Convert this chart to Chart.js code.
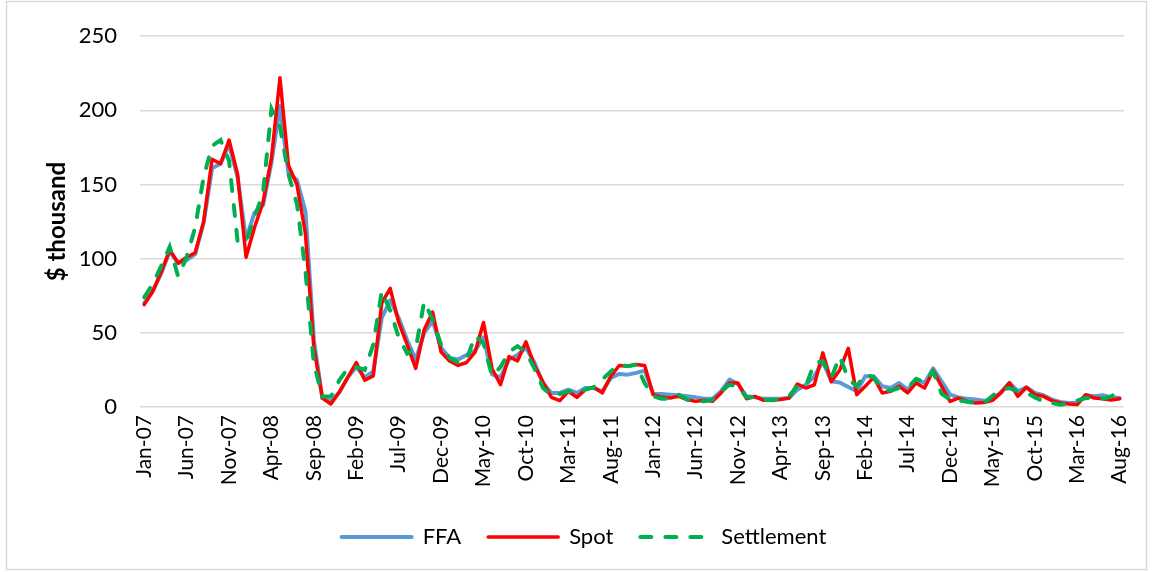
<!DOCTYPE html>
<html>
<head>
<meta charset="utf-8">
<script src="https://cdn.jsdelivr.net/npm/chart.js@4.4.1/dist/chart.umd.min.js"></script>
<style>
  html, body { margin: 0; padding: 0; background: #fff; }
  #wrap { width: 1153px; height: 572px; }
</style>
</head>
<body>
<div id="wrap"><canvas id="freight-chart" width="1153" height="572"></canvas></div>
<script>
// monthly categories Jan-07 .. Aug-16
const monthNames = ['Jan','Feb','Mar','Apr','May','Jun','Jul','Aug','Sep','Oct','Nov','Dec'];
let months = [];
for (let y = 2007; y <= 2016; y++) {
    for (let m = 0; m < 12; m++) {
        if (y === 2016 && m > 7) break;
        months.push(monthNames[m] + '-' + String(y).slice(2));
    }
}

// labels shown on the x axis (every 5th month)
const tickLabels = ['Jan-07','Jun-07','Nov-07','Apr-08','Sep-08','Feb-09','Jul-09','Dec-09','May-10','Oct-10',
    'Mar-11','Aug-11','Jan-12','Jun-12','Nov-12','Apr-13','Sep-13','Feb-14','Jul-14','Dec-14','May-15','Oct-15',
    'Mar-16','Aug-16'];

const yTicks = [0, 50, 100, 150, 200, 250];

// $ thousand
const ffa = [
    70, 78, 90, 105, 97, 99, 103, 124, 161, 164, 177, 155, 113, 131, 136, 165, 203, 158, 153, 132, 45, 6, 4, 10,
    20, 27, 20, 24, 60, 72, 60, 45, 32, 50, 58, 40, 33, 32, 35, 38, 47, 22, 20, 32, 35, 40, 30, 16,
    9.5, 9.5, 11.7, 9.5, 12.8, 12.8, 10.6, 19.6, 22.3, 21.8, 23, 24.5, 8.8, 8.8, 8.3, 7.9, 7.2, 6.5,
    5.6, 5.6, 10.6, 18.5, 15.5, 7.2, 6.5, 5.6, 5.6, 5.6, 6, 11.7, 15, 20.7, 30.8, 17.3, 16.5, 13.5,
    10.6, 20.7, 20.7, 14, 12.8, 16.2, 11.7, 18.5, 16.2, 26, 17.3, 8.3, 6.5, 5.6, 5, 4.3, 5,
    10, 16.2, 10.6, 13.3, 9.5, 7.9, 5, 3.4, 2.7, 2.7, 7.9, 7.2, 7.9, 6.5, 6
];

const spot = [
    69, 78, 91, 106, 97, 101, 104, 125, 167, 164, 180, 157, 101, 121, 138, 168, 222, 163, 150, 117, 40, 6, 2, 10,
    20, 30, 18, 21, 70, 80, 57, 42, 26, 52, 64, 37, 31, 28, 30, 37, 57, 26, 15, 34, 31, 44, 28, 17,
    6.5, 4.3, 10.6, 6.5, 11.7, 13.3, 9.5, 20.7, 28, 27.5, 28.6, 28, 8.3, 6.5, 6, 7.2, 5, 3.8,
    4.5, 3.8, 9.5, 16.2, 16.2, 5.6, 7.2, 4.5, 4.5, 5, 6, 15.5, 12.8, 15, 36.5, 17, 25, 39.5,
    8.3, 14, 20, 9.5, 10.6, 14, 9.5, 16.2, 12.8, 24.5, 14, 3.8, 6, 3.8, 2.7, 3, 4.5,
    9.5, 16.2, 7.2, 13.3, 8.3, 7.2, 4.3, 2.7, 2, 1.6, 8.3, 6, 5.6, 4.7, 5.6
];

const settlement = [
    74, 83, 95, 108, 88, 101, 121, 155, 176, 180, 166, 112, 111, 128, 144, 201, 189, 157, 137, 92, 29, 7, 7, 18,
    26, 27, 25, 42, 78, 65, 47, 36, 39, 71, 59, 42, 33, 30, 32, 48, 43, 21, 27, 37, 41, 37, 26, 13,
    7.9, 8.8, 10.6, 10, 11.7, 13.3, 18.5, 24, 28.6, 27.5, 28.6, 16, 7.2, 5.6, 5.6, 8.3, 5, 3.8,
    3.8, 5, 10.6, 15, 14, 6.5, 6.5, 5, 4.5, 5.6, 7.2, 14, 14, 29.7, 30.8, 19.6, 34, 19,
    14, 22, 20, 11.7, 11, 12.8, 13, 19, 17, 24, 9, 5, 4.5, 3.5, 2.7, 2.7, 7.5,
    11.7, 12.8, 10.6, 9.5, 6.5, 3.8, 2.7, 1.6, 2.2, 4.3, 6, 6, 5.6, 7.2, 10.6
];

const FONT = 'Lato, "Open Sans", sans-serif';

// thin grey frame round the whole chart
const frame = {
    id: 'frame',
    beforeDraw(chart) {
        const ctx = chart.ctx;
        ctx.save();
        ctx.fillStyle = '#fff';
        ctx.fillRect(0, 0, chart.width, chart.height);
        ctx.strokeStyle = '#d9d9d9';
        ctx.lineWidth = 1.5;
        ctx.strokeRect(6.5, 1.5, chart.width - 13, chart.height - 4);
        ctx.restore();
    }
};

let freightChart = document.getElementById('freight-chart').getContext('2d');

let chart = new Chart(freightChart, {
    type: 'line',
    data: {
        labels: months,
        datasets: [{
            label: 'FFA',
            data: ffa,
            borderColor: '#5b9bd5',
            backgroundColor: '#5b9bd5',
            borderWidth: 4,
            borderCapStyle: 'round',
            borderJoinStyle: 'round',
            order: 3
        }, {
            label: 'Spot',
            data: spot,
            borderColor: '#ff0000',
            backgroundColor: '#ff0000',
            borderWidth: 3.5,
            borderCapStyle: 'round',
            borderJoinStyle: 'round',
            order: 2
        }, {
            label: 'Settlement',
            data: settlement,
            borderColor: '#00b050',
            backgroundColor: '#00b050',
            borderWidth: 4,
            borderDash: [11, 14],
            borderCapStyle: 'round',
            order: 1
        }]
    },
    options: {
        responsive: false,
        animation: false,
        layout: { padding: { left: 39, right: 24, top: 36, bottom: 14 } },
        elements: { point: { radius: 0 }, line: { tension: 0 } },
        scales: {
            x: {
                offset: true,
                grid: { display: false, drawTicks: false },
                border: { display: false },
                ticks: {
                    autoSkip: false,
                    maxRotation: 90,
                    minRotation: 90,
                    padding: 8,
                    color: '#000',
                    font: { family: FONT, size: 21 },
                    callback: function (value, index) {
                        return index % 5 === 0 ? tickLabels[index / 5] : '';
                    }
                },
                afterFit: function (scale) { scale.height = 92; }
            },
            y: {
                min: 0,
                max: 250,
                afterBuildTicks: function (scale) {
                    scale.ticks = yTicks.map(v => ({ value: v }));
                },
                grid: { color: '#d9d9d9', lineWidth: 1.5, drawTicks: false },
                border: { display: false },
                ticks: { padding: 23, color: '#000', font: { family: FONT, size: 22 } },
                title: {
                    display: true,
                    text: '$ thousand',
                    color: '#000',
                    font: { family: FONT, size: 24, weight: 'bold' }
                },
                afterFit: function (scale) { scale.width = 101; }
            }
        },
        plugins: {
            tooltip: { enabled: false },
            legend: {
                position: 'bottom',
                labels: {
                    usePointStyle: true,
                    pointStyle: 'line',
                    pointStyleWidth: 70,
                    padding: 27,
                    color: '#000',
                    font: { family: FONT, size: 22 },
                    sort: (a, b) => a.datasetIndex - b.datasetIndex,
                    // keep each series' own stroke (dash pattern included) in the legend
                    generateLabels: function (chart) {
                        const items = Chart.defaults.plugins.legend.labels.generateLabels(chart);
                        items.forEach(item => {
                            const ds = chart.data.datasets[item.datasetIndex];
                            item.lineDash = ds.borderDash || [];
                            item.lineWidth = ds.borderWidth;
                            item.strokeStyle = ds.borderColor;
                            item.lineCap = 'round';
                        });
                        return items;
                    }
                }
            }
        }
    },
    plugins: [frame]
});
</script>
</body>
</html>
